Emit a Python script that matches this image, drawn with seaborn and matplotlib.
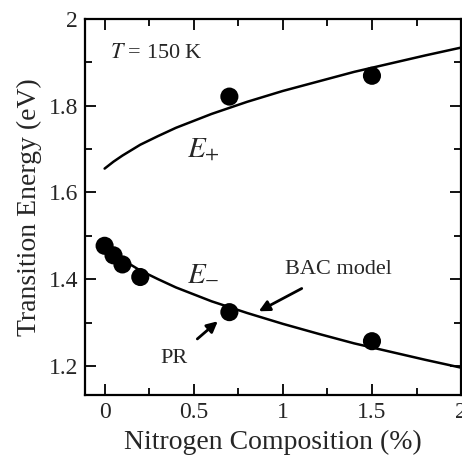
import numpy as np
import pandas as pd
import matplotlib
matplotlib.use("Agg")
import matplotlib.pyplot as plt
import seaborn as sns
from matplotlib.ticker import MultipleLocator

sns.set_theme(style="ticks")
plt.rcParams["font.family"] = ["Liberation Serif", "DejaVu Serif"]
plt.rcParams["mathtext.fontset"] = "stix"

# measured points (PR)
x_minus = [0.0, 0.05, 0.1, 0.2, 0.7, 1.5]
e_minus = [1.477, 1.455, 1.434, 1.405, 1.324, 1.257]
x_plus = [0.7, 1.5]
e_plus = [1.821, 1.869]

# BAC model curves
x_model = [0.0, 0.05, 0.1, 0.2, 0.3, 0.4, 0.5, 0.6, 0.8, 1.0, 1.2, 1.4, 1.6, 1.8, 2.0]
bac_plus = [1.655, 1.671, 1.685, 1.710, 1.730, 1.749, 1.765, 1.781, 1.809,
            1.834, 1.856, 1.878, 1.897, 1.916, 1.934]
bac_minus = [1.475, 1.459, 1.445, 1.420, 1.400, 1.381, 1.365, 1.349, 1.322,
             1.297, 1.274, 1.252, 1.233, 1.214, 1.196]

df_model = pd.DataFrame({"x": x_model, "plus": bac_plus, "minus": bac_minus})
df_pts = pd.DataFrame({"x": x_minus + x_plus, "E": e_minus + e_plus})

fig = plt.figure(figsize=(4.62, 4.58), dpi=100)
ax = fig.add_axes([0.184, 0.1376, 0.814, 0.821])

sns.lineplot(data=df_model, x="x", y="plus", ax=ax, color="black", lw=1.8)
sns.lineplot(data=df_model, x="x", y="minus", ax=ax, color="black", lw=1.8)
sns.scatterplot(data=df_pts, x="x", y="E", ax=ax, color="black", s=170,
                edgecolor="none", zorder=3)

ax.set_xlim(-0.11, 2.0)
ax.set_ylim(1.133, 2.0)
ax.xaxis.set_minor_locator(MultipleLocator(0.25))
ax.yaxis.set_minor_locator(MultipleLocator(0.1))
ax.set_xticks([0, 0.5, 1, 1.5, 2])
ax.set_xticklabels(["0", "0.5", "1", "1.5", "2"])
ax.set_yticks([1.2, 1.4, 1.6, 1.8, 2.0])
ax.set_yticklabels(["1.2", "1.4", "1.6", "1.8", "2"])

ax.tick_params(which="both", direction="in", top=True, right=True,
               labelsize=17, color="black", width=1.3)
ax.tick_params(which="major", length=8, pad=5)
ax.tick_params(which="minor", length=5)
for sp in ax.spines.values():
    sp.set_linewidth(1.6)
    sp.set_color("black")

ax.set_xlabel("Nitrogen Composition (%)", fontsize=20, labelpad=5)
ax.set_ylabel("Transition Energy (eV)", fontsize=20, labelpad=5)

ax.text(0.03, 1.92, r"$T$ = 150 K", fontsize=16, va="center", ha="left")
ax.text(0.46, 1.70, r"$E_{+}$", fontsize=21, va="center", ha="left")
ax.text(0.46, 1.415, r"$E_{-}$", fontsize=21, va="center", ha="left")

ax.annotate("BAC model", xy=(0.865, 1.326), xytext=(1.31, 1.423),
            fontsize=16, ha="center", va="center",
            arrowprops=dict(arrowstyle="-|>", color="black", lw=2,
                            mutation_scale=16, shrinkA=10, shrinkB=0))
ax.annotate("PR", xy=(0.635, 1.303), xytext=(0.39, 1.216),
            fontsize=16, ha="center", va="center",
            arrowprops=dict(arrowstyle="-|>", color="black", lw=2,
                            mutation_scale=16, shrinkA=8, shrinkB=0))

fig.savefig("out.png", dpi=100)
